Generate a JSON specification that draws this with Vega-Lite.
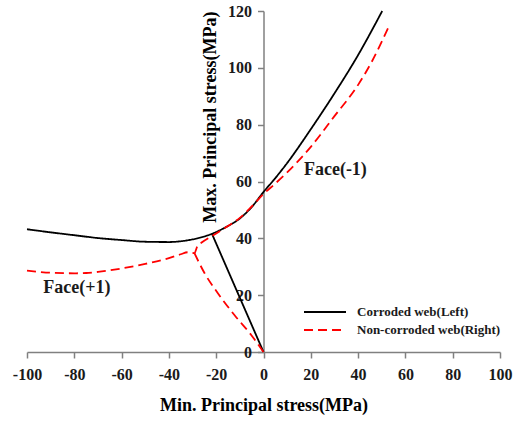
{
  "$schema": "https://vega.github.io/schema/vega-lite/v6.json",
  "width": 473,
  "height": 341,
  "autosize": {"type": "none"},
  "padding": {"left": 27, "top": 11, "right": 19, "bottom": 70},
  "background": "white",
  "config": {
    "view": {"stroke": null},
    "font": "Liberation Serif",
    "axis": {
      "grid": false,
      "domainColor": "#808080",
      "domainWidth": 1.5,
      "tickColor": "#808080",
      "tickWidth": 1.5,
      "tickSize": 6,
      "labelFont": "Liberation Serif",
      "labelFontWeight": "bold",
      "labelFontSize": 16,
      "labelColor": "#1a1a1a",
      "labelFlush": false,
      "labelOverlap": false,
      "titleFont": "Liberation Serif",
      "titleFontWeight": "bold",
      "titleFontSize": 18,
      "titleColor": "#000000"
    }
  },
  "datasets": {
    "curves": [
      {"s": "Corroded web(Left)", "g": "b1", "x": -100, "y": 43.2},
      {"s": "Corroded web(Left)", "g": "b1", "x": -90, "y": 42.1},
      {"s": "Corroded web(Left)", "g": "b1", "x": -80, "y": 41.1},
      {"s": "Corroded web(Left)", "g": "b1", "x": -70, "y": 40.1},
      {"s": "Corroded web(Left)", "g": "b1", "x": -60, "y": 39.4},
      {"s": "Corroded web(Left)", "g": "b1", "x": -50, "y": 38.8},
      {"s": "Corroded web(Left)", "g": "b1", "x": -40, "y": 38.7},
      {"s": "Corroded web(Left)", "g": "b1", "x": -33, "y": 39.2},
      {"s": "Corroded web(Left)", "g": "b1", "x": -28, "y": 40.0},
      {"s": "Corroded web(Left)", "g": "b1", "x": -21.8, "y": 41.6},
      {"s": "Corroded web(Left)", "g": "b1", "x": -16, "y": 43.9},
      {"s": "Corroded web(Left)", "g": "b1", "x": -10, "y": 47.0},
      {"s": "Corroded web(Left)", "g": "b1", "x": -5, "y": 51.0},
      {"s": "Corroded web(Left)", "g": "b1", "x": 0, "y": 56.3},
      {"s": "Corroded web(Left)", "g": "b1", "x": 5, "y": 61.2},
      {"s": "Corroded web(Left)", "g": "b1", "x": 10, "y": 66.5},
      {"s": "Corroded web(Left)", "g": "b1", "x": 20, "y": 78.4},
      {"s": "Corroded web(Left)", "g": "b1", "x": 30, "y": 91.0},
      {"s": "Corroded web(Left)", "g": "b1", "x": 40, "y": 104.5},
      {"s": "Corroded web(Left)", "g": "b1", "x": 50.2, "y": 120},
      {"s": "Corroded web(Left)", "g": "b2", "x": -21.8, "y": 41.6},
      {"s": "Corroded web(Left)", "g": "b2", "x": 0, "y": 0},
      {"s": "Non-corroded web(Right)", "g": "r1", "x": -100, "y": 28.6},
      {"s": "Non-corroded web(Right)", "g": "r1", "x": -95, "y": 28.2},
      {"s": "Non-corroded web(Right)", "g": "r1", "x": -90, "y": 27.9},
      {"s": "Non-corroded web(Right)", "g": "r1", "x": -80, "y": 27.7},
      {"s": "Non-corroded web(Right)", "g": "r1", "x": -75, "y": 27.8},
      {"s": "Non-corroded web(Right)", "g": "r1", "x": -70, "y": 28.2},
      {"s": "Non-corroded web(Right)", "g": "r1", "x": -60, "y": 29.4},
      {"s": "Non-corroded web(Right)", "g": "r1", "x": -50, "y": 31.0},
      {"s": "Non-corroded web(Right)", "g": "r1", "x": -40, "y": 33.0},
      {"s": "Non-corroded web(Right)", "g": "r1", "x": -35, "y": 34.4},
      {"s": "Non-corroded web(Right)", "g": "r1", "x": -32, "y": 35.1},
      {"s": "Non-corroded web(Right)", "g": "r1", "x": -29.2, "y": 34.8},
      {"s": "Non-corroded web(Right)", "g": "r1", "x": -28, "y": 37.2},
      {"s": "Non-corroded web(Right)", "g": "r1", "x": -26, "y": 38.6},
      {"s": "Non-corroded web(Right)", "g": "r1", "x": -22, "y": 40.7},
      {"s": "Non-corroded web(Right)", "g": "r1", "x": -16, "y": 43.8},
      {"s": "Non-corroded web(Right)", "g": "r1", "x": -10, "y": 47.2},
      {"s": "Non-corroded web(Right)", "g": "r1", "x": -5, "y": 51.2},
      {"s": "Non-corroded web(Right)", "g": "r1", "x": 0, "y": 55.6},
      {"s": "Non-corroded web(Right)", "g": "r1", "x": 5, "y": 59.3},
      {"s": "Non-corroded web(Right)", "g": "r1", "x": 10, "y": 63.2},
      {"s": "Non-corroded web(Right)", "g": "r1", "x": 20, "y": 72.2},
      {"s": "Non-corroded web(Right)", "g": "r1", "x": 30, "y": 83.0},
      {"s": "Non-corroded web(Right)", "g": "r1", "x": 40, "y": 94.0},
      {"s": "Non-corroded web(Right)", "g": "r1", "x": 46, "y": 102.5},
      {"s": "Non-corroded web(Right)", "g": "r1", "x": 52.7, "y": 114},
      {"s": "Non-corroded web(Right)", "g": "r2", "x": -29.2, "y": 34.8},
      {"s": "Non-corroded web(Right)", "g": "r2", "x": -24.9, "y": 27.7},
      {"s": "Non-corroded web(Right)", "g": "r2", "x": -19.3, "y": 20.7},
      {"s": "Non-corroded web(Right)", "g": "r2", "x": -12.3, "y": 13.0},
      {"s": "Non-corroded web(Right)", "g": "r2", "x": -5.2, "y": 6.0},
      {"s": "Non-corroded web(Right)", "g": "r2", "x": 0, "y": 0}
    ],
    "notes": [
      {"label": "Face(-1)", "x": 30.4, "y": 64},
      {"label": "Face(+1)", "x": -78.9, "y": 22.5}
    ]
  },
  "layer": [
    {
      "data": {"name": "curves"},
      "mark": {"type": "line", "strokeWidth": 1.8, "clip": false, "interpolate": "monotone"},
      "encoding": {
        "x": {
          "field": "x",
          "type": "quantitative",
          "scale": {"domain": [-100, 100], "nice": false, "zero": false},
          "axis": {
            "values": [-100, -80, -60, -40, -20, 0, 20, 40, 60, 80, 100],
            "labelExpr": "datum.value + ''",
            "title": "Min. Principal stress(MPa)",
            "labelPadding": 8,
            "titlePadding": 14
          }
        },
        "y": {
          "field": "y",
          "type": "quantitative",
          "scale": {"domain": [0, 120], "nice": false},
          "axis": {
            "values": [0, 20, 40, 60, 80, 100, 120],
            "labelExpr": "datum.value + ''",
            "offset": -236.5,
            "title": "Max. Principal stress(MPa)",
            "titleAnchor": "end",
            "labelPadding": 6,
            "titlePadding": 8
          }
        },
        "detail": {"field": "g"},
        "color": {
          "field": "s",
          "type": "nominal",
          "scale": {"domain": ["Corroded web(Left)", "Non-corroded web(Right)"], "range": ["#000000", "#ff0000"]},
          "legend": {
            "title": null,
            "orient": "none",
            "legendX": 276,
            "legendY": 293,
            "symbolType": "stroke",
            "symbolSize": 1764,
            "symbolStrokeWidth": 2,
            "clipHeight": 16,
            "labelOffset": 10,
            "labelFont": "Liberation Serif",
            "labelFontWeight": "bold",
            "labelFontSize": 13,
            "labelColor": "#1a1a1a",
            "padding": 0
          }
        },
        "strokeDash": {
          "field": "s",
          "type": "nominal",
          "scale": {"domain": ["Corroded web(Left)", "Non-corroded web(Right)"], "range": [[1, 0], [9, 5]]},
          "legend": null
        }
      }
    },
    {
      "data": {"name": "notes"},
      "mark": {"type": "text", "font": "Liberation Serif", "fontWeight": "bold", "fontSize": 18, "color": "#1a1a1a"},
      "encoding": {
        "x": {"field": "x", "type": "quantitative"},
        "y": {"field": "y", "type": "quantitative"},
        "text": {"field": "label"}
      }
    }
  ]
}
